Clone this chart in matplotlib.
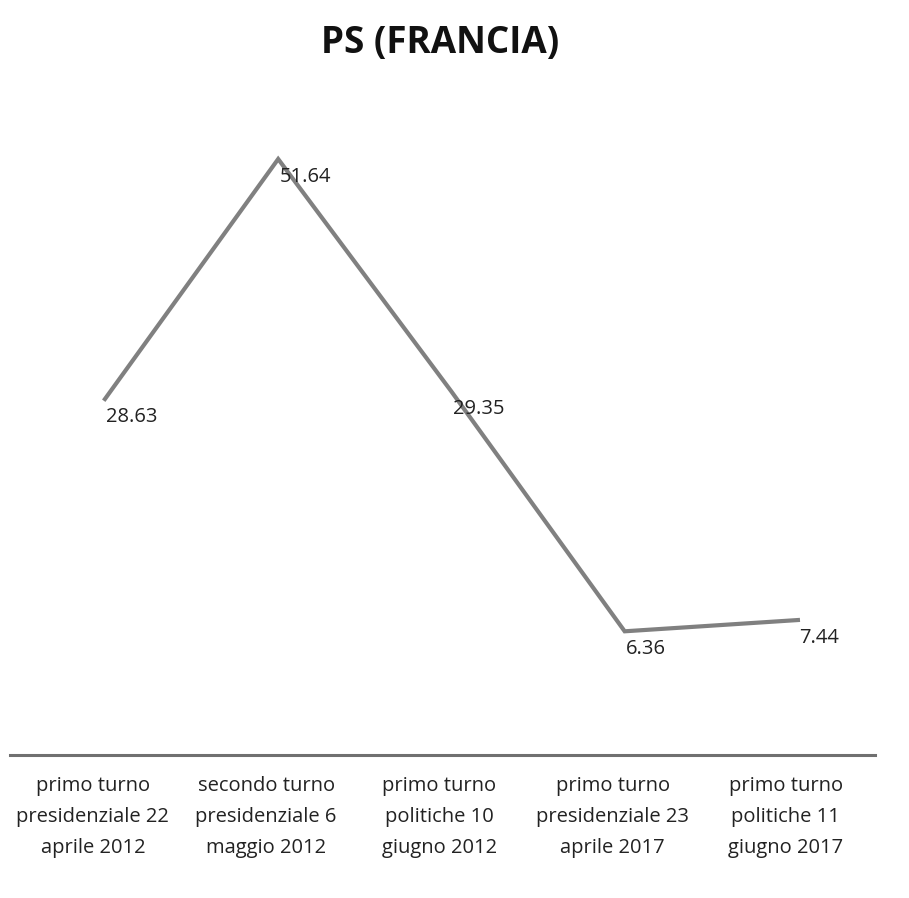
import matplotlib
matplotlib.use("Agg")
import matplotlib.pyplot as plt
from matplotlib.transforms import ScaledTranslation

plt.rcParams['font.family'] = ['Open Sans', 'DejaVu Sans']

categories = [
    "primo turno\npresidenziale 22\naprile 2012",
    "secondo turno\npresidenziale 6\nmaggio 2012",
    "primo turno\npolitiche 10\ngiugno 2012",
    "primo turno\npresidenziale 23\naprile 2017",
    "primo turno\npolitiche 11\ngiugno 2017",
]
values = [28.63, 51.64, 29.35, 6.36, 7.44]
title = "PS (FRANCIA)"

W, H = 909, 898
fig = plt.figure(figsize=(W / 100, H / 100), dpi=100)
left, right = 10 / W, 875 / W
bottom = (H - 755) / H
top = 1 - 100 / H
ax = fig.add_axes([left, bottom, right - left, top - bottom])

x = list(range(len(values)))
ax.plot(x, values, color="#808080", lw=3, solid_joinstyle="miter")

ax.set_xlim(-0.548, 4.445)
ax.set_ylim(-5.5, 57.3)

for xi, v in zip(x, values):
    ax.annotate(f"{v:.2f}", (xi, v), xytext=(1, -5.5), textcoords="offset points",
                ha="left", va="top", fontsize=14.5, color="#222222")

ax.set_xticks(x)
ax.set_xticklabels(categories, fontsize=14.5, color="#222222", linespacing=1.75)
ax.tick_params(axis="x", length=0, pad=15)
ax.set_yticks([])
for lab in ax.get_xticklabels():
    lab.set_transform(lab.get_transform() + ScaledTranslation(-0.12, 0, fig.dpi_scale_trans))

for s in ["top", "right", "left"]:
    ax.spines[s].set_visible(False)
ax.spines["bottom"].set_color("#707070")
ax.spines["bottom"].set_linewidth(2.2)

fig.text(440 / W, 1 - 43 / H, title, ha="center", va="center",
         fontsize=26.5, fontweight="bold", color="#111111")

fig.savefig("out.png", dpi=100)
